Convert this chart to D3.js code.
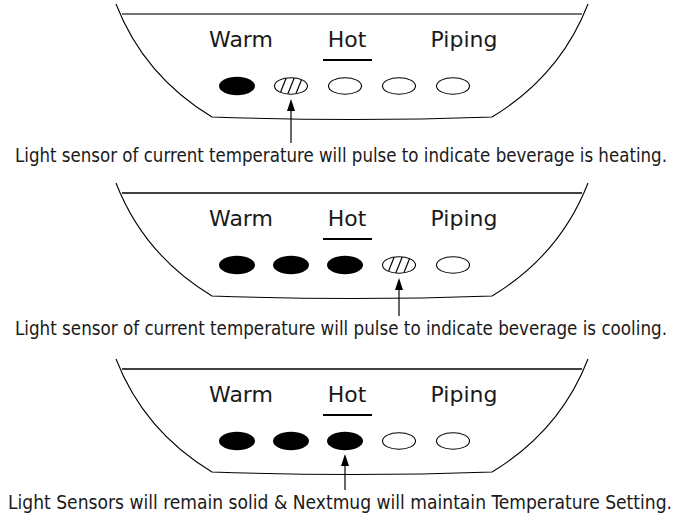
<!DOCTYPE html>
<html>
<head>
<meta charset="utf-8">
<script src="https://cdn.jsdelivr.net/npm/d3@7"></script>
<style>
  body { margin: 0; background: #fff; }
  text { font-family: "DejaVu Sans Condensed", "DejaVu Sans", sans-serif; fill: #1a1a1a; }
</style>
</head>
<body>
<script>
'use strict';

// light states per panel: 2 = solid, 1 = pulsing (hatched), 0 = off
const panelStates = [
  [2, 1, 0, 0, 0],
  [2, 2, 2, 1, 0],
  [2, 2, 2, 0, 0]
];
// which light the arrow points at
const arrowTargets = [1, 3, 2];
const settingLabels = ["Warm", "Hot", "Piping"];
const selectedLabel = "Hot";
const captions = [
  "Light sensor of current temperature will pulse to indicate beverage is heating.",
  "Light sensor of current temperature will pulse to indicate beverage is cooling.",
  "Light Sensors will remain solid & Nextmug will maintain Temperature Setting."
];

const width = 684, height = 524;
const panelTop = [14, 193, 369];   // y of each bowl's rim line
const captionY = [162, 335, 509];
const captionX = [15, 15, 8];
const captionLen = [652, 652, 664];
const cx = 352;

const svg = d3.select("body").append("svg")
  .attr("width", width)
  .attr("height", height);

const defs = svg.append("defs");

// positions of the five lights
const x = d3.scalePoint()
  .domain(d3.range(5))
  .range([237, 453]);

// bowl outline, relative to rim y
function bowlPath(y0) {
  const p = d3.path();
  p.moveTo(116, y0 - 10);
  p.quadraticCurveTo(144, y0 + 62, 212, y0 + 103);
  p.quadraticCurveTo(cx, y0 + 108, 492, y0 + 103);
  p.quadraticCurveTo(560, y0 + 62, 588, y0 - 10);
  return p.toString();
}

panelStates.forEach((states, i) => {
  const y0 = panelTop[i];
  const g = svg.append("g").attr("class", "panel");

  g.append("path")
    .attr("d", bowlPath(y0))
    .attr("fill", "none")
    .attr("stroke", "#000")
    .attr("stroke-width", 1.1);

  g.append("line")
    .attr("x1", 122).attr("x2", 582)
    .attr("y1", y0).attr("y2", y0)
    .attr("stroke", i === 0 ? "#444" : "#000")
    .attr("stroke-width", 1.3);

  // setting labels
  const labelX = [x(0) + 4, x(2) + 2, x(4) + 11];
  g.selectAll("text.label")
    .data(settingLabels)
    .enter().append("text")
      .attr("class", "label")
      .attr("x", (d, k) => labelX[k])
      .attr("y", y0 + 33)
      .attr("text-anchor", "middle")
      .style("font-family", "'DejaVu Sans', sans-serif")
      .style("font-size", "22px")
      .text(d => d);

  // underline under the selected setting
  const sel = settingLabels.indexOf(selectedLabel);
  g.append("line")
    .attr("x1", labelX[sel] - 24).attr("x2", labelX[sel] + 25)
    .attr("y1", y0 + 46).attr("y2", y0 + 46)
    .attr("stroke", "#000")
    .attr("stroke-width", 2);

  const cy = y0 + 72;

  // lights
  states.forEach((s, k) => {
    if (s === 2) {
      g.append("ellipse")
        .attr("cx", x(k)).attr("cy", cy)
        .attr("rx", 18).attr("ry", 9.2)
        .attr("fill", "#000");
    } else {
      if (s === 1) {
        const id = "clip" + i + "_" + k;
        defs.append("clipPath").attr("id", id)
          .append("ellipse")
            .attr("cx", x(k)).attr("cy", cy)
            .attr("rx", 16.5).attr("ry", 8.3);
        g.append("g")
          .attr("clip-path", "url(#" + id + ")")
          .selectAll("line")
          .data([-8, 0, 8])
          .enter().append("line")
            .attr("x1", d => x(k) + d - 4).attr("y1", cy + 10)
            .attr("x2", d => x(k) + d + 4).attr("y2", cy - 10)
            .attr("stroke", "#000")
            .attr("stroke-width", 1.2);
      }
      g.append("ellipse")
        .attr("cx", x(k)).attr("cy", cy)
        .attr("rx", 16.5).attr("ry", 8.3)
        .attr("fill", "none")
        .attr("stroke", "#000")
        .attr("stroke-width", 1.1);
    }
  });

  // arrow from caption up to the light
  const ax = x(arrowTargets[i]);
  const tipY = cy + 13;
  g.append("line")
    .attr("x1", ax).attr("x2", ax)
    .attr("y1", tipY + 6).attr("y2", captionY[i] - 19)
    .attr("stroke", "#000")
    .attr("stroke-width", 1.2);
  g.append("path")
    .attr("d", "M" + ax + "," + tipY + "L" + (ax - 4) + "," + (tipY + 12) + "L" + (ax + 4) + "," + (tipY + 12) + "Z")
    .attr("fill", "#000");

  // caption
  g.append("text")
    .attr("x", captionX[i])
    .attr("y", captionY[i])
    .attr("textLength", captionLen[i])
    .attr("lengthAdjust", "spacingAndGlyphs")
    .style("font-size", "19px")
    .text(captions[i]);
});
</script>
</body>
</html>
